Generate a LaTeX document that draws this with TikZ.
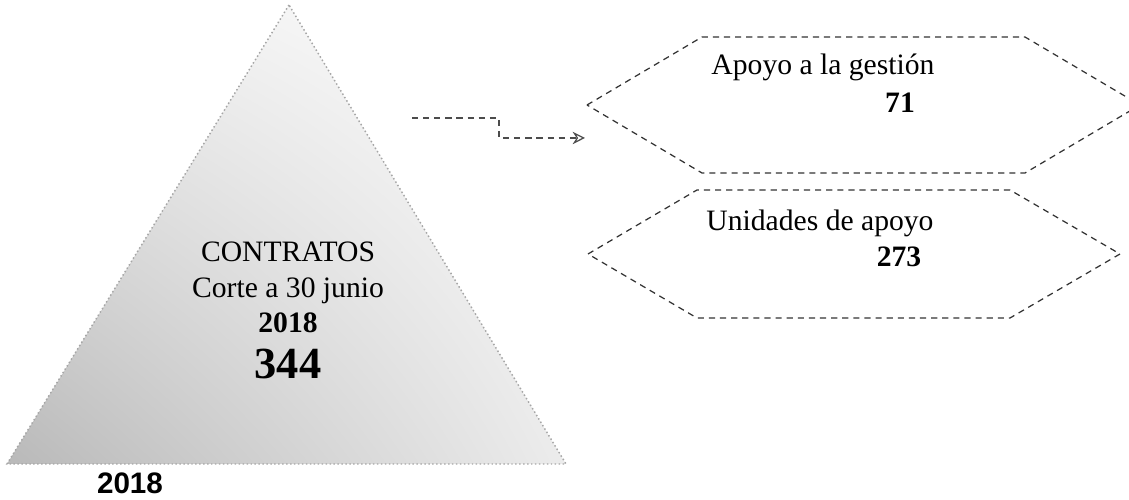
\documentclass[tikz,border=0pt]{standalone}
\usepackage{fontspec}
\setmainfont{Liberation Serif}
\newfontfamily\arialfont{Liberation Sans}
\usetikzlibrary{arrows.meta,shadings}
\tikzstyle{pyramidstyle}=[
    lower left=gray!55,
    upper left=gray!15,
    upper right=white,
    lower right=gray!15,
]
\tikzstyle{hexagonstyle}=[
    draw=black!80,
    dash pattern=on 2.5pt off 2pt,
    line width=0.5pt,
]
\tikzstyle{connectorstyle}=[
    draw=black!70,
    dash pattern=on 2.5pt off 2pt,
    line width=0.5pt,
    -{Stealth[open,length=5pt,width=5pt]},
]
\tikzstyle{labelstyle}=[
    inner sep=0pt,
    font=\fontsize{12}{14}\selectfont,
]

\begin{document}
\begin{tikzpicture}[x=0.405pt,y=-0.405pt]
        \clip (0,0) rectangle (1129,500);
        \coordinate (apex) at (289,5);
        \coordinate (baseleft) at (7,464);
        \coordinate (baseright) at (566,464);
        \shade[pyramidstyle] (apex) -- (baseleft) -- (baseright) -- cycle;
        \draw[gray!70, densely dotted, line width=0.6pt] (apex) -- (baseleft) -- (baseright) -- cycle;
        \node[labelstyle] (contratos) at (288,252) {CONTRATOS};
        \node[labelstyle] (corte) at (288,291) {Corte a 30 junio};
        \node[labelstyle] (year) at (288,323) {\bfseries 2018};
        \node[labelstyle, font=\fontsize{18}{20}\selectfont] (total) at (288,364) {\bfseries 344};
        \node[labelstyle] (baseyear) at (130,483) {\arialfont\bfseries 2018};
        % hexagons
        \draw[hexagonstyle] (587,105) -- (702,37) -- (1025,37) -- (1140,105) -- (1025,173) -- (702,173) -- cycle;
        \draw[hexagonstyle] (588,254) -- (697,190) -- (1010,190) -- (1120,254) -- (1010,318) -- (697,318) -- cycle;
        \node[labelstyle] (gestion) at (823,67) {Apoyo a la gestión};
        \node[labelstyle] (gestionnum) at (900,103) {\bfseries 71};
        \node[labelstyle] (unidades) at (820,223) {Unidades de apoyo};
        \node[labelstyle] (unidadesnum) at (899,257) {\bfseries 273};
        % connector
        \coordinate (arrowstart) at (412,118);
        \coordinate (stepdown) at (499,138);
        \coordinate (arrowtip) at (585,138);
        \draw[connectorstyle] (arrowstart) -| (stepdown) -- (arrowtip);
    \end{tikzpicture}
\end{document}
